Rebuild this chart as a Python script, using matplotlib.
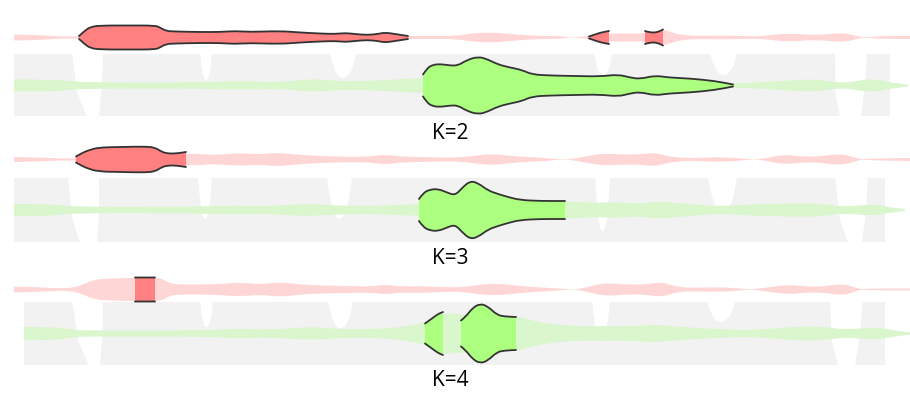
import numpy as np
import matplotlib
matplotlib.use("Agg")
import matplotlib.pyplot as plt
from matplotlib.path import Path
from matplotlib.patches import PathPatch, Polygon

# ---- panel layout (pixel space) ----
labels = ["K=2", "K=3", "K=4"]
label_xy = [(450, 134), (450, 259), (450, 381)]
red_cy = [38.5, 160.5, 290.5]
green_cy = [86.5, 211, 334.5]
band_top = [55, 179, 303]
band_bot = [117, 243, 366]
band_x = [(14, 890), (14, 885), (24, 885)]

# ---- light (context) red streams: x, half width ----
red1_x = [14, 40, 60, 79, 100, 160, 200, 240, 280, 320, 345, 365, 385, 408, 430, 455, 475, 495, 515, 540, 560,
          570, 578, 590, 610, 630, 645, 663, 670, 680, 700, 720, 740, 760, 788, 815, 843, 858, 868, 880, 910]
red1_h = [3, 2.5, 1, 1, 3, 3, 3, 3, 3, 3, 3, 2, 3, 1.5, 1.5, 1.5, 4.5, 5, 3, 1.5, 1.5,
          0, 0.5, 1.5, 4, 4, 4, 8, 6, 2.5, 1.5, 2, 1.5, 1, 4.5, 2, 5, 1, 0, 1.5, 1.5]
red2_x = [14, 40, 60, 76, 120, 186, 200, 215, 240, 260, 275, 295, 320, 350, 370, 385, 400, 420, 440, 460, 480,
          495, 515, 540, 555, 565, 575, 590, 605, 620, 640, 655, 668, 685, 700, 715, 735, 748, 755, 765, 783,
          800, 820, 840, 855, 862, 870, 910]
red2_h = [2.5, 2, 1, 1, 3, 6, 5.5, 4.5, 6.5, 5, 7, 5, 3.5, 2.5, 3, 5, 3, 2.5, 2, 2, 4.5,
          5.5, 3, 2, 0.5, 0, 1, 4, 6, 5, 5, 7, 3, 1.5, 1.5, 2.5, 1.5, 0.5, 0, 1, 5,
          3, 3, 6, 2, 0, 1, 1.5]
red3_x = [14, 35, 60, 75, 85, 95, 110, 130, 155, 162, 170, 180, 200, 220, 240, 260, 280, 300, 320, 350, 370,
          385, 400, 420, 440, 460, 480, 498, 515, 540, 560, 570, 580, 595, 608, 625, 645, 662, 675, 690, 718,
          740, 750, 760, 788, 805, 825, 842, 855, 862, 870, 910]
red3_h = [3, 2.5, 1, 2, 6, 10, 11, 11.5, 11.5, 11, 6, 5, 5, 5.5, 7, 5, 7.5, 5, 4, 3.5, 3,
          5, 3, 3.5, 2.5, 2, 5, 6, 4, 2, 1, 0, 0.5, 4.5, 6.5, 5, 5, 7.5, 3, 1.5, 2.5,
          1, 0, 1, 5, 3, 3, 6, 2, 0, 1, 1]

# ---- highlighted red segments ----
red_hi = [
    [([79, 84, 90, 100, 130, 155, 160, 166, 175, 200, 220, 235, 250, 280, 300, 320, 335, 345, 355, 367, 378, 385,
       395, 408],
      [1.5, 6, 10.5, 12, 12, 12, 10, 6.5, 6, 5.5, 5.5, 6.5, 5.5, 6.5, 5, 4, 3.5, 4.5, 3.5, 2.5, 3.5, 5, 3.5, 1.5]),
     ([589, 595, 601, 609], [1, 3, 5, 6.5]),
     ([645, 650, 656, 660, 663], [6.5, 5, 5, 6.5, 8])],
    [([76, 82, 88, 98, 120, 145, 155, 162, 168, 176, 186],
      [3, 6.5, 9, 12, 12.5, 13, 12, 7.5, 6, 6, 7.5])],
    [([135, 145, 155], [12, 12, 12])],
]

# ---- light green streams ----
green1_x = [14, 55, 70, 100, 200, 240, 280, 313, 340, 380, 410, 423, 500, 733, 760, 788, 815, 838, 855, 872,
            890, 908]
green1_h = [6, 6, 4, 3, 3, 4.5, 3, 7, 4, 5, 7, 7, 10, 2, 3, 5, 6.5, 2.5, 4, 7, 3, 1]
green2_x = [14, 50, 65, 80, 120, 200, 240, 270, 305, 330, 370, 400, 419, 500, 565, 588, 622, 638, 655, 688,
            722, 755, 790, 822, 842, 872, 890, 905]
green2_h = [6, 6, 4, 3.5, 3, 3.5, 4.5, 3.5, 6.5, 4.5, 4, 5, 6, 9, 9, 7, 8, 6, 9, 6,
            3.5, 6, 6.5, 6.5, 3, 6, 2.5, 1]
green3_x = [24, 55, 68, 80, 120, 200, 240, 270, 313, 340, 380, 405, 425, 443, 452, 461, 516, 522, 540, 555,
            580, 605, 630, 655, 680, 708, 745, 775, 805, 830, 842, 860, 878, 895, 910]
green3_h = [6.5, 6.5, 4.5, 3, 3, 3, 5, 3.5, 7, 4, 4.5, 7, 11, 20, 20, 19, 17, 16, 11, 9,
            7, 7.5, 7, 9, 6.5, 5, 3, 5, 7.5, 6, 4, 5, 6, 3, 1]

# ---- highlighted green segments ----
green_hi = [
    [([423, 427, 432, 440, 450, 458, 466, 478, 488, 498, 510, 522, 532, 550, 575, 600, 618, 630, 640, 655, 668,
       690, 715, 733],
      [11, 17, 20.5, 21.5, 20, 20, 25, 29, 26, 21, 18, 15.5, 11, 10, 9.5, 9, 11, 8, 6.5, 10, 8, 7, 4.5, 1])],
    [([419, 423, 430, 438, 446, 455, 462, 470, 478, 488, 498, 508, 520, 540, 565],
      [11, 17, 20.5, 21, 18, 14.5, 22, 29, 27, 19.5, 16, 13, 10, 9, 9])],
    [([425, 432, 438, 443], [10, 15, 19.5, 21.5]),
     ([461, 466, 472, 480, 488, 497, 505, 516], [13, 17, 25, 30, 27, 18.5, 17, 16.5])],
]

# ---- white cuts in the grey bands ----
# u-notches: (x left, x right, bottom y)
notches = [
    [(200, 212, 80), (330, 356, 78), (594, 612, 76), (710, 737, 75)],
    [(198, 212, 218), (327, 352, 218), (595, 610, 230), (708, 737, 212)],
    [(200, 213, 327), (328, 353, 328), (592, 610, 337), (707, 735, 322)],
]
# full gaps: (top left, top right, bottom left, bottom right)
gaps = [
    [(72, 103, 87, 99), (835, 867, 840, 861)],
    [(68, 99, 80, 97), (835, 868, 848, 862)],
    [(72, 103, 89, 100), (830, 863, 838, 855)],
]

RED_LIGHT = "#ffd6d6"
RED_HI = "#ff8080"
GREEN_LIGHT = "#d9f6cc"
GREEN_HI = "#adff80"
GREY = "#f2f2f2"
EDGE = "#333333"


def curve(xs, ys):
    verts = [(xs[0], ys[0])]
    codes = [Path.MOVETO]
    for i in range(1, len(xs) - 1):
        verts += [(xs[i], ys[i]), ((xs[i] + xs[i + 1]) / 2, (ys[i] + ys[i + 1]) / 2)]
        codes += [Path.CURVE3, Path.CURVE3]
    verts.append((xs[-1], ys[-1]))
    codes.append(Path.LINETO)
    return verts, codes


def stream(ax, xs, hs, cy, color, outline=False, z=2):
    xs = np.asarray(xs, float)
    hs = np.asarray(hs, float)
    tv, tc = curve(xs, cy - hs)
    bv, bc = curve(xs[::-1], (cy + hs)[::-1])
    bc[0] = Path.LINETO
    path = Path(tv + bv + [tv[0]], tc + bc + [Path.CLOSEPOLY])
    ax.add_patch(PathPatch(path, facecolor=color, edgecolor="none", lw=0, zorder=z))
    if outline:
        for ys in (cy - hs, cy + hs):
            v, c = curve(xs, ys)
            ax.add_patch(PathPatch(Path(v, c), facecolor="none", edgecolor=EDGE, lw=1.3,
                                   zorder=z + 0.5, capstyle="round"))


fig = plt.figure(figsize=(9.1, 4.14), dpi=100)
ax = fig.add_axes([0, 0, 1, 1])
ax.set_xlim(0, 910)
ax.set_ylim(414, 0)
ax.axis("off")

red_light = [(red1_x, red1_h), (red2_x, red2_h), (red3_x, red3_h)]
green_light = [(green1_x, green1_h), (green2_x, green2_h), (green3_x, green3_h)]

for k in range(3):
    top, bot = band_top[k], band_bot[k]
    x0, x1 = band_x[k]
    ax.add_patch(Polygon([(x0, top), (x1, top), (x1, bot), (x0, bot)], closed=True,
                         facecolor=GREY, edgecolor="none", zorder=1))
    for xl, xr, yb in notches[k]:
        w = xr - xl
        d = yb - top
        v, c = curve([xl, xl + 0.15 * w, xl + 0.5 * w, xr - 0.15 * w, xr],
                     [top - 1, top + 0.75 * d, top + d * 1.15, top + 0.75 * d, top - 1])
        v.append(v[0])
        c.append(Path.CLOSEPOLY)
        ax.add_patch(PathPatch(Path(v, c), facecolor="white", edgecolor="none", zorder=1.2))
    for tl, tr, bl, br in gaps[k]:
        mid = (top + bot) / 2
        ax.add_patch(Polygon([(tl, top - 1), (tr, top - 1), ((tr + br) / 2 + 1, mid), (br, bot + 1),
                              (bl, bot + 1), ((tl + bl) / 2 - 2, mid + 8)], closed=True,
                             facecolor="white", edgecolor="none", zorder=1.2))

    rx, rh = red_light[k]
    stream(ax, rx, rh, red_cy[k], RED_LIGHT, z=2)
    gx, gh = green_light[k]
    stream(ax, gx, gh, green_cy[k], GREEN_LIGHT, z=2)

    for xs, hs in red_hi[k]:
        stream(ax, xs, hs, red_cy[k], RED_HI, outline=True, z=3)
    for xs, hs in green_hi[k]:
        stream(ax, xs, hs, green_cy[k], GREEN_HI, outline=True, z=3)

    lx, ly = label_xy[k]
    ax.text(lx, ly, labels[k], ha="center", va="center", fontsize=15,
            family=["Open Sans", "DejaVu Sans"], color="black", zorder=5)

fig.savefig("out.png", dpi=100)
